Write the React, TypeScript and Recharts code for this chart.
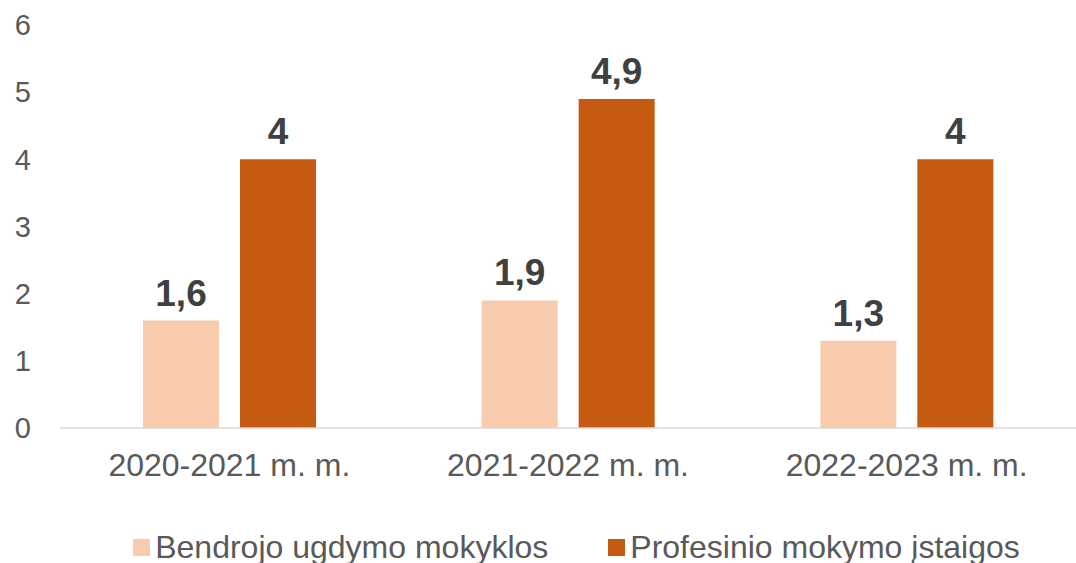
import { Bar, BarChart, LabelList, Legend, XAxis, YAxis } from 'recharts';

const categories = ['2020-2021 m. m.', '2021-2022 m. m.', '2022-2023 m. m.'];
const bendrojo = [1.6, 1.9, 1.3];
const profesinio = [4, 4.9, 4];
const yTicks = [0, 1, 2, 3, 4, 5, 6];

const seriesNames = ['Bendrojo ugdymo mokyklos', 'Profesinio mokymo įstaigos'];
const colors = ['#F8CBAD', '#C55A11'];

const data = categories.map((name, i) => ({
	name,
	bendrojo: bendrojo[i],
	profesinio: profesinio[i]
}));

const font = 'Arial, "Liberation Sans", sans-serif';
const textColor = '#595959';

function formatValue(value: number) {
	return String(value).replace('.', ',');
}

function ChartLegend() {
	return (
		<div
			style={{
				display: 'flex',
				justifyContent: 'center',
				gap: 60,
				height: 32,
				lineHeight: '32px',
				fontFamily: font,
				fontSize: 32,
				color: textColor,
				paddingLeft: 77
			}}
		>
			{seriesNames.map((name, i) => (
				<div key={name} style={{ display: 'flex', alignItems: 'center' }}>
					<span
						style={{
							display: 'inline-block',
							width: 17,
							height: 17,
							background: colors[i],
							marginRight: 5
						}}
					/>
					{name}
				</div>
			))}
		</div>
	);
}

export default function App() {
	return (
		<div style={{ position: 'absolute', left: 0, top: 0, width: 1076, height: 563, background: '#fff' }}>
			<BarChart
				width={1076}
				height={563}
				data={data}
				margin={{ top: 25, right: 0, left: 0, bottom: 0 }}
				barSize={76}
				barGap={21}
			>
				<XAxis
					dataKey="name"
					axisLine={{ stroke: '#D9D9D9', strokeWidth: 1.5 }}
					tickLine={false}
					tickMargin={19}
					height={103}
					tick={{ fill: textColor, fontSize: 32, fontFamily: font }}
				/>
				<YAxis
					width={60}
					domain={[0, 6]}
					ticks={yTicks}
					axisLine={false}
					tickLine={false}
					tickMargin={23}
					tick={{ fill: textColor, fontSize: 29, fontFamily: font }}
				/>
				<Legend verticalAlign="bottom" content={<ChartLegend />} />
				<Bar dataKey="bendrojo" fill={colors[0]} isAnimationActive={false}>
					<LabelList
						dataKey="bendrojo"
						position="top"
						offset={15}
						formatter={(v: number) => formatValue(v)}
						style={{ fill: '#404040', fontSize: 37, fontWeight: 700, fontFamily: font }}
					/>
				</Bar>
				<Bar dataKey="profesinio" fill={colors[1]} isAnimationActive={false}>
					<LabelList
						dataKey="profesinio"
						position="top"
						offset={15}
						formatter={(v: number) => formatValue(v)}
						style={{ fill: '#404040', fontSize: 37, fontWeight: 700, fontFamily: font }}
					/>
				</Bar>
			</BarChart>
		</div>
	);
}
